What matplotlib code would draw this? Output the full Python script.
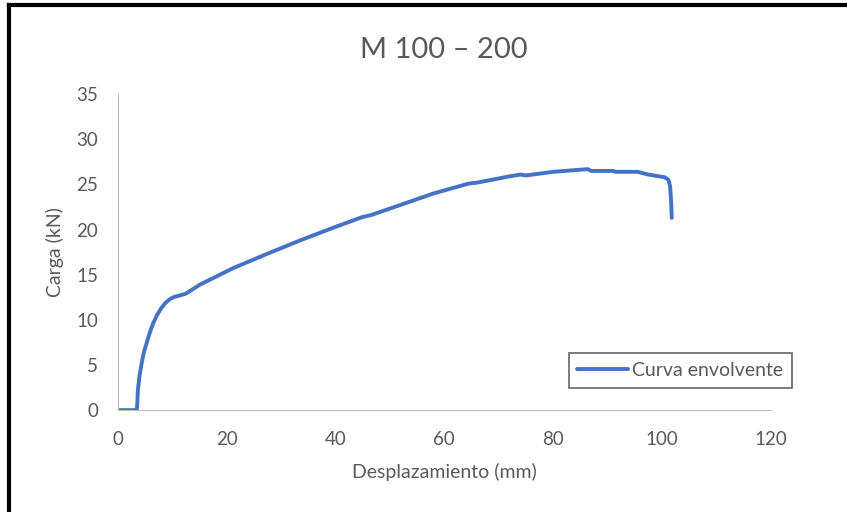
import matplotlib.pyplot as plt
from matplotlib.lines import Line2D

# values
desplazamiento = [0, 3.5, 3.6, 3.7, 4.0, 4.4, 4.8, 5.3, 5.9, 6.5, 7.2, 8.0,
                  8.8, 9.6, 10.4, 11.4, 12.5, 15.1, 21.1, 27.0,
                  33.5, 40.0, 45.0, 46.5, 51.8, 58.0, 64.5, 66.0, 72.0, 74.0,
                  75.0, 80.0, 86.4, 87.0, 91.0, 91.5, 95.5, 97.5, 100.5, 101.2,
                  101.5, 101.7, 101.8]
carga = [0, 0, 0.8, 2.2, 3.8, 5.2, 6.4, 7.4, 8.6, 9.6, 10.5, 11.3,
         11.9, 12.3, 12.55, 12.7, 12.9, 13.9, 15.7, 17.2,
         18.8, 20.3, 21.4, 21.6, 22.7, 24.0, 25.1, 25.2, 25.9, 26.1,
         26.0, 26.4, 26.7, 26.5, 26.5, 26.4, 26.4, 26.1, 25.8, 25.5,
         24.8, 23.0, 21.3]

plt.rcParams['font.family'] = ['Lato', 'DejaVu Sans']
gray = '#595959'

fig = plt.figure(figsize=(8.47, 5.12), dpi=100)
ax = fig.add_axes([0.139, 0.199, 0.771, 0.617])

ax.plot(desplazamiento, carga, color='#4472C4', linewidth=2.8, label='Curva envolvente',
        solid_joinstyle='round', solid_capstyle='round')

ax.set_xlim(0, 120)
ax.set_ylim(0, 35)
ax.set_xticks(range(0, 121, 20))
ax.set_yticks(range(0, 36, 5))
ax.tick_params(length=0, labelsize=13.5, colors=gray)
ax.tick_params(axis='y', pad=14)
ax.tick_params(axis='x', pad=15)
ax.spines[['top', 'right']].set_visible(False)
ax.spines[['left', 'bottom']].set_color('#BFBFBF')

ax.set_title('M 100 – 200', fontsize=21, color=gray, pad=26)
ax.set_xlabel('Desplazamiento (mm)', fontsize=14, color=gray, labelpad=11)
ax.set_ylabel('Carga (kN)', fontsize=14, color=gray, labelpad=9)

leg = ax.legend(loc='lower right', bbox_to_anchor=(1.032, 0.07), fontsize=14,
                frameon=True, fancybox=False, handlelength=2.6, handletextpad=0.2,
                borderpad=0.45, borderaxespad=0)
leg.get_frame().set_edgecolor('#404040')
leg.get_frame().set_linewidth(1.2)
for t in leg.get_texts():
    t.set_color(gray)

# outer border of the chart (top and left edges visible)
fig.add_artist(Line2D([0.011, 1.0], [0.99, 0.99], color='black', lw=3, transform=fig.transFigure))
fig.add_artist(Line2D([0.011, 0.011], [0.0, 0.99], color='black', lw=3, transform=fig.transFigure))

fig.savefig('out.png', dpi=100)
